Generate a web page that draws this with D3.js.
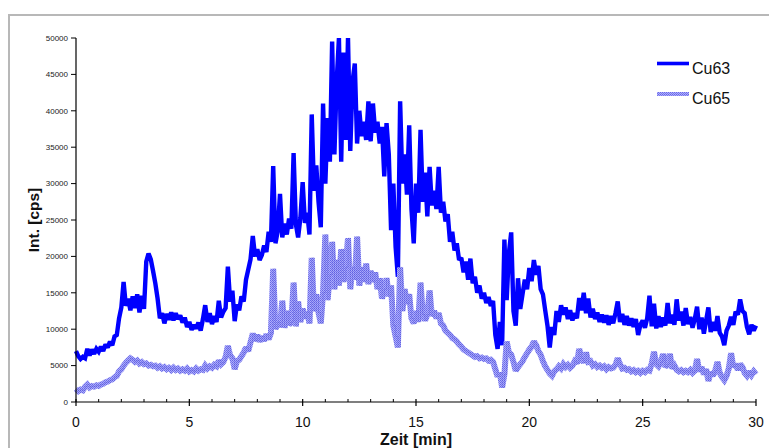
<!DOCTYPE html>
<html>
<head>
<meta charset="utf-8">
<script src="https://cdn.jsdelivr.net/npm/d3@7"></script>
<style>
  html, body { margin: 0; padding: 0; background: #fff; }
  svg { display: block; }
</style>
</head>
<body>
<svg id="chart" width="769" height="448"></svg>
<script>
// ---- DATA ----
const startMin = 0;      // first sample time [min]
const stepMin = 0.1;     // sample spacing [min]
const seriesNames = ["Cu63", "Cu65"];
const xTicks = [0, 5, 10, 15, 20, 25, 30];
const yTicks = [0, 5000, 10000, 15000, 20000, 25000, 30000, 35000, 40000, 45000, 50000];

const cu63 = [
  7000,6300,5900,6200,6000,7300,6400,7200,6600,7300,
  6900,7600,7000,7900,7500,8300,7800,9000,9200,11500,
  13000,16500,13200,14200,12600,14500,12900,14800,12300,14600,
  12800,19300,20400,19600,18000,16300,14200,11500,12200,10800,
  12100,11300,12300,11200,12200,11400,11900,10900,11600,10300,
  11000,9900,10600,10100,10900,9800,11400,13300,11000,12200,
  10700,11800,11000,13900,11600,12400,12900,18600,13800,15300,
  11100,13400,12600,14500,13800,16800,18200,19600,22800,20000,
  21000,19500,20200,21500,20600,23400,22000,32400,21800,23500,
  28600,22600,24500,23000,25200,23800,34200,24400,22600,25300,
  30200,24600,26000,23000,39500,29000,32500,27500,24000,41000,
  30000,39000,33000,49500,34000,44000,50000,33000,48000,36000,
  50000,34500,44000,46500,35500,40000,36500,38500,36000,41300,
  35800,41000,37000,38500,35500,37800,31000,38300,34000,23600,
  30000,21300,17200,41300,30000,34000,28500,38000,26500,21800,
  30000,26000,37400,27500,31500,25500,32300,27000,29000,26500,
  32300,26000,27500,24800,25800,22000,23400,20800,21800,19500,
  19800,17800,19300,16800,19700,16300,17200,15000,16000,14200,
  15000,13600,14400,13200,13900,9200,7300,11000,7800,22300,
  14000,20500,23300,12500,10500,17000,12800,14800,16800,15500,
  18400,16600,19500,17500,18700,15500,14800,12600,10500,7500,
  10300,9200,12500,11000,13300,12000,13000,11400,12600,11200,
  12200,11500,14300,12600,15000,12200,14200,11600,12800,11400,
  12300,11000,12000,10900,11900,10600,11800,10800,12200,13800,
  11000,12100,10600,11800,10500,11500,10300,11400,9200,10600,
  11200,10200,11500,14600,10400,13500,10100,11800,10300,11600,
  10500,13600,10800,12000,10600,14100,11200,12400,10500,12900,
  10700,11700,10200,11400,13100,10000,11600,9400,11200,13000,
  9600,11000,9800,11800,9500,9000,7800,9800,10500,11700,
  10600,12400,12000,14100,12500,12200,10300,9300,10600,9800,
  10500
];

const cu65 = [
  1800,1500,1700,1600,2100,2400,2000,2200,2100,2300,
  2200,2400,2500,2700,2800,3000,3100,3400,3600,4200,
  4500,5000,5400,5700,6000,5800,5500,5700,5300,5500,
  5200,5300,5000,5100,4900,5000,4700,4900,4600,4800,
  4500,4700,4400,4700,4400,4600,4300,4500,4300,4600,
  4200,4400,4200,4600,4300,4500,4400,5000,4600,4900,
  4700,5100,4900,5700,5200,5500,6200,7700,6400,6000,
  4500,5600,5800,6300,6800,7500,7000,8200,9400,8400,
  9200,8300,9000,8400,9300,8600,9500,18300,10000,11000,
  10300,13900,10200,12500,10600,11000,16400,10400,13800,11000,
  12800,11500,12400,10800,19800,12500,14800,12300,10800,15000,
  23000,14000,17500,22000,15500,19500,16000,21000,16500,18500,
  22500,15500,18500,16800,22700,16000,18500,16500,19000,16200,
  18000,16500,17800,15500,17000,14200,15500,17000,14500,16000,
  10500,9000,7500,18500,12500,15500,13500,14800,11500,10800,
  12500,11000,16400,12000,11200,12000,15300,11800,12500,11500,
  12200,10800,10500,9800,9500,9200,8800,8600,8300,7900,
  7600,7200,7000,6800,6600,6400,6200,6300,6000,6100,
  5900,6000,5700,5800,5500,4500,3500,4000,2000,3800,
  8300,6800,6500,5500,4300,4800,5200,5600,6200,6700,
  7200,7600,8300,7800,7000,6500,5600,4900,4400,3900,
  3600,4200,4500,4900,4600,5200,4800,5100,4700,5000,
  5600,5300,7300,6000,5400,6800,5500,5600,5000,5200,
  4800,5000,4700,4900,4500,4800,4600,4700,5100,6000,
  5200,4600,4700,4400,4500,4200,4400,4100,4300,4000,
  4300,4100,4400,4300,5300,6900,5200,4900,5500,6600,
  4800,5200,6600,4600,5000,4400,4200,4400,4100,4300,
  4100,4400,4000,4300,5900,4200,4800,3800,4500,2900,
  4100,3600,4300,5500,4000,3400,3000,3600,4600,6700,
  4800,5200,4400,5200,4800,4000,3600,4200,3700,4200,
  3800
];

// ---- LAYOUT ----
const svg = d3.select("#chart");
const plot = { left: 76, right: 756, top: 38, bottom: 402 };
const font = "'Liberation Sans', Arial, sans-serif";

const x = d3.scaleLinear().domain([0, 30]).range([plot.left, plot.right]);
const y = d3.scaleLinear().domain([0, 50000]).range([plot.bottom, plot.top]);

const defs = svg.append("defs");
const pat = defs.append("pattern")
  .attr("id", "cu65pat").attr("patternUnits", "userSpaceOnUse")
  .attr("width", 2).attr("height", 2);
pat.append("rect").attr("width", 2).attr("height", 2).attr("fill", "#aeaefc");
pat.append("rect").attr("width", 1).attr("height", 1).attr("fill", "#6868e6");
pat.append("rect").attr("x", 1).attr("y", 1).attr("width", 1).attr("height", 1).attr("fill", "#7878ec");

defs.append("clipPath").attr("id", "plotclip")
  .append("rect").attr("x", plot.left - 4).attr("y", plot.top)
  .attr("width", plot.right - plot.left + 8).attr("height", plot.bottom - plot.top + 4);

// outer frame
svg.append("rect").attr("x", 9).attr("y", 15).attr("width", 800).attr("height", 500)
  .attr("fill", "none").attr("stroke", "#b8b8b8").attr("stroke-width", 2);

const toPts = arr => arr.map((v, i) => [startMin + i * stepMin, v]);
const line = d3.line().x(d => x(d[0])).y(d => y(d[1]));

const g = svg.append("g").attr("clip-path", "url(#plotclip)");
g.append("path").datum(toPts(cu63))
  .attr("d", line).attr("fill", "none")
  .attr("stroke", "#0000ff").attr("stroke-width", 4.4)
  .attr("stroke-linejoin", "miter").attr("stroke-miterlimit", 2);
g.append("path").datum(toPts(cu65))
  .attr("d", line).attr("fill", "none")
  .attr("stroke", "url(#cu65pat)").attr("stroke-width", 6)
  .attr("stroke-linejoin", "miter").attr("stroke-miterlimit", 2);
g.append("path").datum(toPts(cu65))
  .attr("d", d3.line().x(d => x(d[0])).y(d => y(d[1])).curve(d3.curveStepAfter))
  .attr("fill", "none").attr("stroke", "#3a3acc").attr("stroke-width", 0.7)
  .attr("stroke-opacity", 0.3);

// ---- AXES ----
const xAxisG = svg.append("g").attr("transform", `translate(0,${plot.bottom})`);
xAxisG.append("line").attr("x1", plot.left).attr("x2", plot.right)
  .attr("stroke", "#000").attr("stroke-width", 1.2);
const minorTicks = d3.range(0, 31).filter(v => v % 5 !== 0);
xAxisG.selectAll(".minor").data(minorTicks).join("line")
  .attr("x1", d => x(d)).attr("x2", d => x(d)).attr("y1", -3).attr("y2", 0)
  .attr("stroke", "#000").attr("stroke-width", 1);
xAxisG.selectAll(".major").data(xTicks).join("line")
  .attr("x1", d => x(d)).attr("x2", d => x(d)).attr("y1", -3).attr("y2", 4)
  .attr("stroke", "#000").attr("stroke-width", 1.2);
xAxisG.selectAll("text").data(xTicks).join("text")
  .attr("x", d => x(d)).attr("y", 25)
  .attr("text-anchor", "middle").attr("font-family", font).attr("font-size", 14)
  .attr("fill", "#111").text(d => d);

const yAxisG = svg.append("g").attr("transform", `translate(${plot.left},0)`);
yAxisG.append("line").attr("y1", plot.top).attr("y2", plot.bottom)
  .attr("stroke", "#000").attr("stroke-width", 1.2);
yAxisG.selectAll(".yt").data(yTicks).join("line")
  .attr("x1", -5).attr("x2", 0).attr("y1", d => y(d)).attr("y2", d => y(d))
  .attr("stroke", "#000").attr("stroke-width", 1);
yAxisG.selectAll("text").data(yTicks).join("text")
  .attr("x", -8).attr("y", d => y(d)).attr("dy", "0.35em")
  .attr("text-anchor", "end").attr("font-family", font).attr("font-size", 8)
  .attr("fill", "#222").text(d => d);

// axis titles
svg.append("text").attr("x", (plot.left + plot.right) / 2).attr("y", 445)
  .attr("text-anchor", "middle").attr("font-family", font).attr("font-size", 16)
  .attr("font-weight", "bold").attr("fill", "#111").text("Zeit [min]");
svg.append("text").attr("transform", "translate(39,220) rotate(-90)")
  .attr("text-anchor", "middle").attr("font-family", font).attr("font-size", 15.5)
  .attr("font-weight", "bold").attr("fill", "#111").text("Int. [cps]");

// ---- LEGEND ----
const legend = svg.append("g");
const legY = [63.5, 94];
legend.append("line").attr("x1", 657).attr("x2", 689).attr("y1", legY[0]).attr("y2", legY[0])
  .attr("stroke", "#0000ff").attr("stroke-width", 3.6);
legend.append("line").attr("x1", 657).attr("x2", 689).attr("y1", legY[1]).attr("y2", legY[1])
  .attr("stroke", "url(#cu65pat)").attr("stroke-width", 4);
legend.selectAll("text").data(seriesNames).join("text")
  .attr("x", 692).attr("y", (d, i) => legY[i] + 10)
  .attr("font-family", font).attr("font-size", 16).attr("fill", "#111").text(d => d);
</script>
</body>
</html>
